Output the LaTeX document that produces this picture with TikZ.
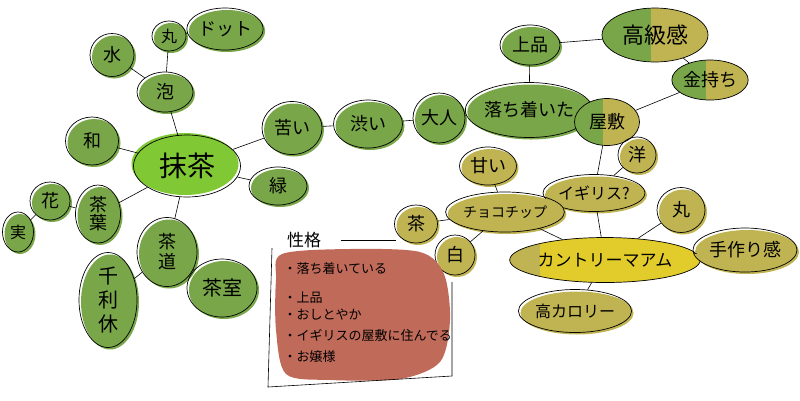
\documentclass[tikz,border=0pt]{standalone}
\usepackage{fontspec}
\setmainfont{Noto Sans CJK JP}
\usetikzlibrary{shapes.geometric}
\definecolor{mgreen}{RGB}{120,166,72}
\definecolor{lgreen}{RGB}{128,200,52}
\definecolor{olv}{RGB}{192,180,82}
\definecolor{yel}{RGB}{226,204,44}
\definecolor{brick}{RGB}{192,106,90}

\begin{document}
\begin{tikzpicture}[
  x=1pt, y=-1pt, font=\fontsize{18}{20}\selectfont,
  bub/.style={ellipse,draw,line width=0.7pt,inner sep=0pt,align=center},
  gn/.style={bub,preaction={fill=mgreen,transform canvas={shift={(2pt,-2pt)}}}},
  on/.style={bub,preaction={fill=olv,transform canvas={shift={(2pt,-2pt)}}}},
  duo/.style={bub,path picture={
    \fill[mgreen] (path picture bounding box.south west) rectangle ([xshift=-4pt]path picture bounding box.north);
    \fill[olv] ([xshift=-4pt]path picture bounding box.south) rectangle (path picture bounding box.north east);}},
  ln/.style={line width=0.6pt}]
\useasboundingbox (0,0) rectangle (800,400);
% matcha side
\node[bub,minimum width=107pt,minimum height=62pt,font=\fontsize{28}{30}\selectfont,
  preaction={fill=lgreen,transform canvas={shift={(-2pt,2pt)}}}] (matcha) at (187,166) {抹茶};
\node[gn,minimum width=56pt,minimum height=40pt] (awa) at (165,92) {泡};
\node[gn,minimum width=44pt,minimum height=43pt] (mizu) at (112,55) {水};
\node[gn,minimum width=34pt,minimum height=30pt,font=\fontsize{16}{18}\selectfont] (maru) at (169,36) {丸};
\node[gn,minimum width=65pt,minimum height=42pt] (dot) at (225,29) {ドット};
\node[gn,minimum width=53pt,minimum height=48pt] (wa) at (92,141) {和};
\node[gn,minimum width=45pt,minimum height=58pt] (chaba) at (98,214) {茶\\[-2pt]葉};
\node[gn,minimum width=40pt,minimum height=38pt] (hana) at (50,201) {花};
\node[gn,minimum width=31pt,minimum height=40pt,font=\fontsize{16}{18}\selectfont] (mi) at (18,232) {実};
\node[gn,minimum width=60pt,minimum height=69pt] (sado) at (167,252) {茶\\道};
\node[gn,minimum width=58pt,minimum height=95pt,font=\fontsize{20}{24}\selectfont] (rikyu) at (108,300) {千\\利\\休};
\node[gn,minimum width=70pt,minimum height=58pt,font=\fontsize{20}{22}\selectfont] (chashitsu) at (222,288) {茶室};
\node[gn,minimum width=60pt,minimum height=53pt] (nigai) at (292,128) {苦い};
\node[gn,minimum width=58pt,minimum height=38pt] (midori) at (278,186) {緑};
\node[gn,minimum width=69pt,minimum height=48pt] (shibui) at (368,124) {渋い};
\node[gn,minimum width=52pt,minimum height=50pt] (otona) at (439,118) {大人};
\node[gn,minimum width=102pt,minimum height=55pt] (ochitsuita) at (529,110) {落ち着いた};
\node[gn,minimum width=60pt,minimum height=40pt] (johin) at (530,45) {上品};
% upper right
\node[duo,minimum width=106pt,minimum height=54pt,font=\fontsize{22}{24}\selectfont] (kokyu) at (655,35) {高級感};
\node[duo,minimum width=74pt,minimum height=40pt] (kanemochi) at (710,80) {金持ち};
\node[duo,minimum width=65pt,minimum height=47pt] (yashiki) at (607,122) {屋敷};
\node[on,minimum width=38pt,minimum height=36pt] (yo) at (637,155) {洋};
\node[on,minimum width=102pt,minimum height=37pt,font=\fontsize{16}{18}\selectfont] (igirisu) at (594,193) {イギリス?};
% country ma'am side
\node[on,minimum width=57pt,minimum height=38pt] (amai) at (488,166) {甘い};
\node[on,minimum width=94pt,minimum height=40pt,font=\fontsize{14}{16}\selectfont] (choco) at (505,212) {チョコチップ};
\node[on,minimum width=43pt,minimum height=38pt] (cha) at (416,224) {茶};
\node[on,minimum width=40pt,minimum height=40pt] (shiro) at (455,255) {白};
\node[bub,minimum width=170pt,minimum height=45pt,font=\fontsize{17}{19}\selectfont,
  path picture={
    \fill[yel] (path picture bounding box.south west) rectangle (path picture bounding box.north east);
    \fill[olv] (path picture bounding box.south west) rectangle ([xshift=30pt]path picture bounding box.north west);}] (country) at (605,260) {カントリーマアム};
\node[on,minimum width=48pt,minimum height=45pt] (maru2) at (681,210) {丸};
\node[on,minimum width=104pt,minimum height=44pt] (tezukuri) at (745,250) {手作り感};
\node[on,minimum width=106pt,minimum height=43pt,font=\fontsize{16}{18}\selectfont] (kcal) at (575,311) {高カロリー};
\foreach \a/\b in {matcha/awa,awa/mizu,awa/maru,maru/dot,matcha/wa,matcha/chaba,chaba/hana,hana/mi,
  matcha/sado,sado/rikyu,sado/chashitsu,matcha/nigai,matcha/midori,nigai/shibui,shibui/otona,
  otona/ochitsuita,ochitsuita/johin,johin/kokyu,kokyu/kanemochi,kanemochi/yashiki,yashiki/yo,
  yashiki/igirisu,yo/igirisu,igirisu/country,maru2/country,tezukuri/country,kcal/country,
  choco/country,amai/choco,cha/choco,shiro/choco} \draw[ln] (\a) -- (\b);
% personality box
\fill[brick] plot[smooth cycle] coordinates {(282,254) (350,249) (420,252) (444,274) (450,320) (440,362) (400,379) (330,380) (286,374) (276,330) (276,280)};
\node[font=\fontsize{17}{19}\selectfont] (seikaku) at (304,240) {性格};
\node[anchor=north west,align=left,font=\fontsize{13}{21}\selectfont] (traits) at (280,259)
  {・落ち着いている\\[8pt]・上品\\[-4pt]・おしとやか\\・イギリスの屋敷に住んでる\\・お嬢様};
\coordinate (ftl) at (272,248);
\coordinate (fbl) at (268,387);
\coordinate (fbr) at (452,376);
\coordinate (ftr) at (452,282);
\coordinate (fend) at (396,240);
\draw[ln] (ftl) -- (fbl) -- (fbr) -- (ftr);
\draw[ln,shorten <=16pt] (seikaku.east) -- (fend);
\end{tikzpicture}
\end{document}
